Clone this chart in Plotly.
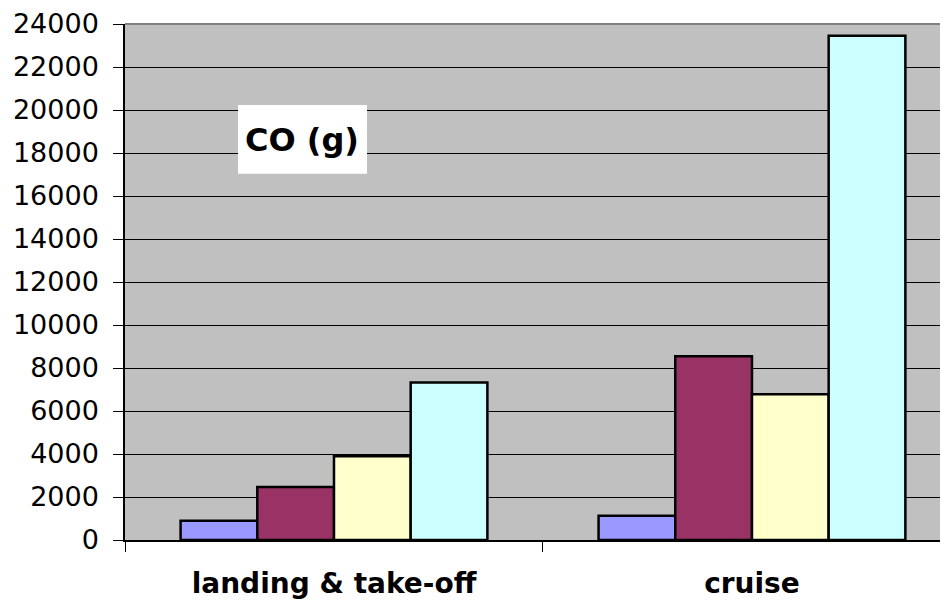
import plotly.graph_objects as go

categories = ["landing & take-off", "cruise"]
series_names = ["Series 1", "Series 2", "Series 3", "Series 4"]
series_colors = ["#9999FF", "#993366", "#FFFFCC", "#CCFFFF"]
series_1 = [900, 1130]
series_2 = [2460, 8550]
series_3 = [3890, 6780]
series_4 = [7330, 23450]
y_ticks = list(range(0, 24001, 2000))

FONT = "DejaVu Sans"

fig = go.Figure()
for name, color, vals in zip(series_names, series_colors, [series_1, series_2, series_3, series_4]):
    fig.add_trace(go.Bar(
        x=categories, y=vals, name=name,
        marker=dict(color=color, line=dict(color="#000000", width=2.5)),
    ))

fig.update_layout(
    width=940, height=594,
    margin=dict(l=117, r=0, t=16, b=62),
    paper_bgcolor="#FFFFFF",
    plot_bgcolor="#C0C0C0",
    barmode="group",
    bargap=0.266,
    bargroupgap=0,
    showlegend=False,
    font=dict(family=FONT, color="#000000"),
)
fig.update_xaxes(
    type="category",
    range=[-0.5, 1.469],
    showline=True, linecolor="#000000", linewidth=1.5,
    ticks="outside", ticklen=10, tickcolor="#000000", tickwidth=1,
    tickson="boundaries",
    showgrid=False,
    tickfont=dict(family=FONT, size=28, color="#000000", weight="bold"),
    ticklabelstandoff=18,
)
fig.update_yaxes(
    range=[0, 24000],
    tickvals=y_ticks,
    ticktext=[str(v) for v in y_ticks],
    showline=True, linecolor="#000000", linewidth=1.5,
    ticks="outside", ticklen=10, tickcolor="#000000", tickwidth=1,
    showgrid=True, gridcolor="#000000", gridwidth=1,
    zeroline=False,
    tickfont=dict(family=FONT, size=27, color="#000000"),
    ticklabelstandoff=9,
)
# top border of plot area
fig.add_shape(type="line", xref="paper", yref="paper", x0=0, x1=1, y0=1, y1=1,
              line=dict(color="#808080", width=2), layer="above")
# white title box
fig.add_shape(type="rect", xref="paper", yref="paper",
              x0=0.1373, x1=0.294, y0=0.7096, y1=0.843,
              fillcolor="#FFFFFF", line=dict(width=0), layer="above")
fig.add_annotation(
    xref="paper", yref="paper", x=0.215, y=0.7754,
    text="<b>CO (g)</b>", showarrow=False,
    font=dict(family=FONT, size=32, color="#000000"),
    xanchor="center", yanchor="middle",
)

fig.write_html("out.html")
